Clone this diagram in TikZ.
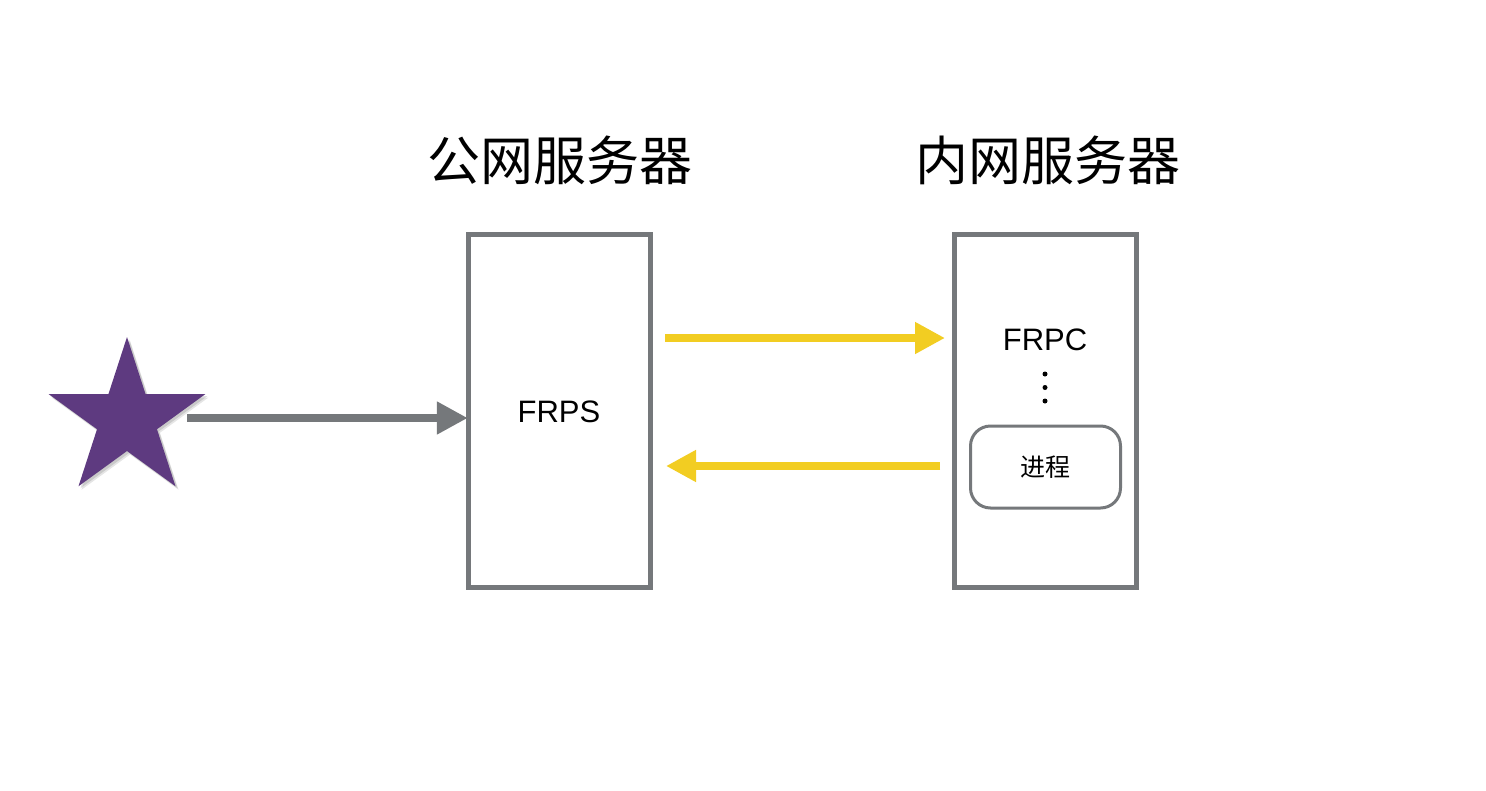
\documentclass[tikz,border=0pt]{standalone}
\usepackage{fontspec}
\setmainfont{Liberation Sans}
\newfontfamily\cjk{Noto Sans CJK SC}
\usetikzlibrary{arrows.meta,shapes.geometric}
\definecolor{boxgray}{HTML}{75787B}
\definecolor{arrowyellow}{HTML}{F2CD22}
\definecolor{starpurple}{HTML}{5E3A80}
\tikzset{
  serverbox/.style={draw=boxgray, line width=5pt, fill=white},
  title/.style={font=\cjk\fontsize{53}{60}\selectfont, inner sep=0pt},
  label/.style={font=\fontsize{31}{36}\selectfont, inner sep=0pt},
  procbox/.style={draw=boxgray, line width=3pt, rounded corners=20pt, minimum width=150pt, minimum height=82pt, font=\cjk\fontsize{25}{30}\selectfont},
  grayarrow/.style={draw=boxgray, line width=8pt, -{Triangle[length=31pt,width=31pt]}},
  yellowarrow/.style={draw=arrowyellow, line width=8pt, -{Triangle[length=30pt,width=30pt]}},
  dot/.style={circle, fill=black, inner sep=0pt, minimum size=5pt},
  starshape/.style={star, star points=5, star point ratio=2.618, minimum size=165pt, inner sep=0pt},
}
\begin{document}
\begin{tikzpicture}[x=1pt,y=-1pt]
\useasboundingbox[fill=white] (0,0) rectangle (1486,790);
% titles
\node[title] (t1) at (560,160) {公网服务器};
\node[title] (t2) at (1048,160) {内网服务器};
% boxes
\draw[serverbox] (468,234.5) rectangle (650,587.5);
\node[minimum width=182pt, minimum height=353pt, inner sep=0pt] (frps) at (559,411) {};
\draw[serverbox] (954.5,234.5) rectangle (1136.5,587.5);
\node[minimum width=182pt, minimum height=353pt, inner sep=0pt] (frpcbox) at (1045.5,411) {};
\node[label] (frpslabel) at (559,412) {FRPS};
\node[label] (frpc) at (1045,340) {FRPC};
\node[dot] (d1) at (1045,374) {};
\node[dot] (d2) at (1045,387.5) {};
\node[dot] (d3) at (1045,401) {};
\node[procbox] (proc) at (1045.5,467) {进程};
% star with soft shadow
\node[starshape, fill=black, opacity=0.10] (sh1) at (130,423) {};
\node[starshape, fill=black, opacity=0.12] (sh2) at (129,421.5) {};
\node[starshape, fill=starpurple] (star) at (127,419.5) {};
% arrows
\coordinate (s0) at (187,418);
\draw[grayarrow] (s0) -- (s0 -| frps.west);
\coordinate (y0) at (665,338);
\coordinate (y1) at (945,338);
\draw[yellowarrow] (y0) -- (y1);
\coordinate (y2) at (940,466);
\coordinate (y3) at (666,466);
\draw[yellowarrow] (y2) -- (y3);
\end{tikzpicture}
\end{document}
